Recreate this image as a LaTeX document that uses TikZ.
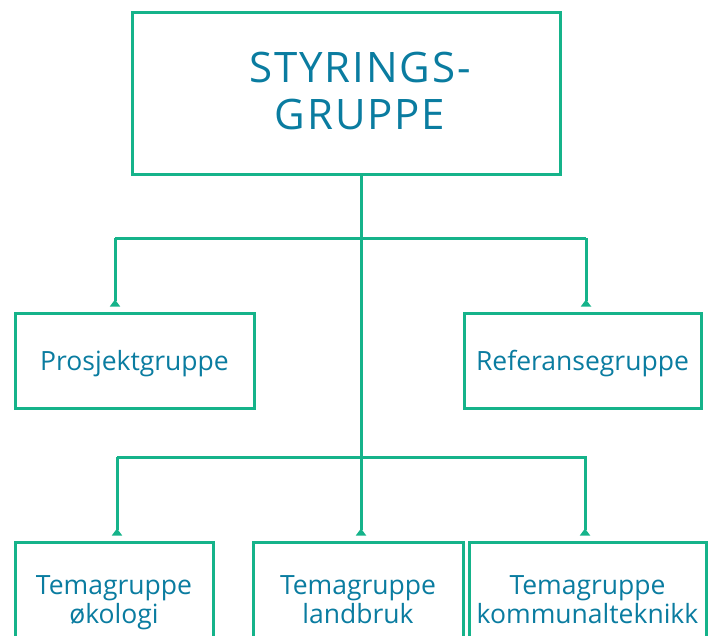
\documentclass[tikz,border=0pt]{standalone}
\usepackage{fontspec}
\setmainfont{Open Sans}
\newfontfamily\titlefont{Open Sans}[LetterSpace=4.5]
\usetikzlibrary{arrows.meta}
\definecolor{linegreen}{HTML}{15B38A}
\definecolor{textblue}{HTML}{0A7CA0}
\tikzset{
  orgbox/.style={draw=linegreen, line width=3pt, text=textblue, align=center,
    font=\fontsize{26.5}{29}\selectfont, text height=19pt, text depth=0pt},
  twoline/.style={text height=48pt},
  link/.style={draw=linegreen, line width=3pt},
  tip/.style={link, -{Triangle[reversed,width=10pt,length=7pt]}, shorten >=5pt}
}

\begin{document}
\begin{tikzpicture}[x=1pt, y=-1pt]
    \useasboundingbox (0,0) rectangle (708,635);
    \clip (0,0) rectangle (708,635);

    % Top box
    \node[orgbox, minimum width=428pt, minimum height=162pt] (styr) at (346,93) {};
    \node[text=textblue, align=center, font=\titlefont\fontsize{42}{47}\selectfont,
      text height=77pt, text depth=0pt, inner sep=0pt] (styrtext) at (360,90.5) {STYRINGS-\\GRUPPE};

    % Second row
    \node[orgbox, minimum width=239pt, minimum height=95pt] (prosj) at (134.5,360.5) {Prosjektgruppe};
    \node[orgbox, minimum width=237pt, minimum height=95pt] (ref) at (582.5,360.5) {Referansegruppe};

    % Bottom row
    \node[orgbox, twoline, minimum width=198pt, minimum height=114pt] (oko) at (114,599) {Temagruppe\\økologi};
    \node[orgbox, twoline, minimum width=210pt, minimum height=114pt] (land) at (358,599) {Temagruppe\\landbruk};
    \node[orgbox, twoline, minimum width=237pt, minimum height=114pt] (komm) at (587.5,599) {Temagruppe\\kommunalteknikk};

    % Spine and branches
    \coordinate (spine) at (361,174);
    \coordinate (b1l) at (115,238);
    \coordinate (b1r) at (586,238);
    \coordinate (b2l) at (117,457);
    \coordinate (b2r) at (587,457);
    \coordinate (d2r) at (585,457);

    \draw[tip] (spine) -- (spine |- land.north);
    \draw[link] (b1l) -- (b1r);
    \draw[link] (b2l) -- (b2r);
    \draw[tip] (b1l) -- (b1l |- prosj.north);
    \draw[tip] (b1r) -- (b1r |- ref.north);
    \draw[tip] (b2l) -- (b2l |- oko.north);
    \draw[tip] (d2r) -- (d2r |- komm.north);
\end{tikzpicture}
\end{document}
